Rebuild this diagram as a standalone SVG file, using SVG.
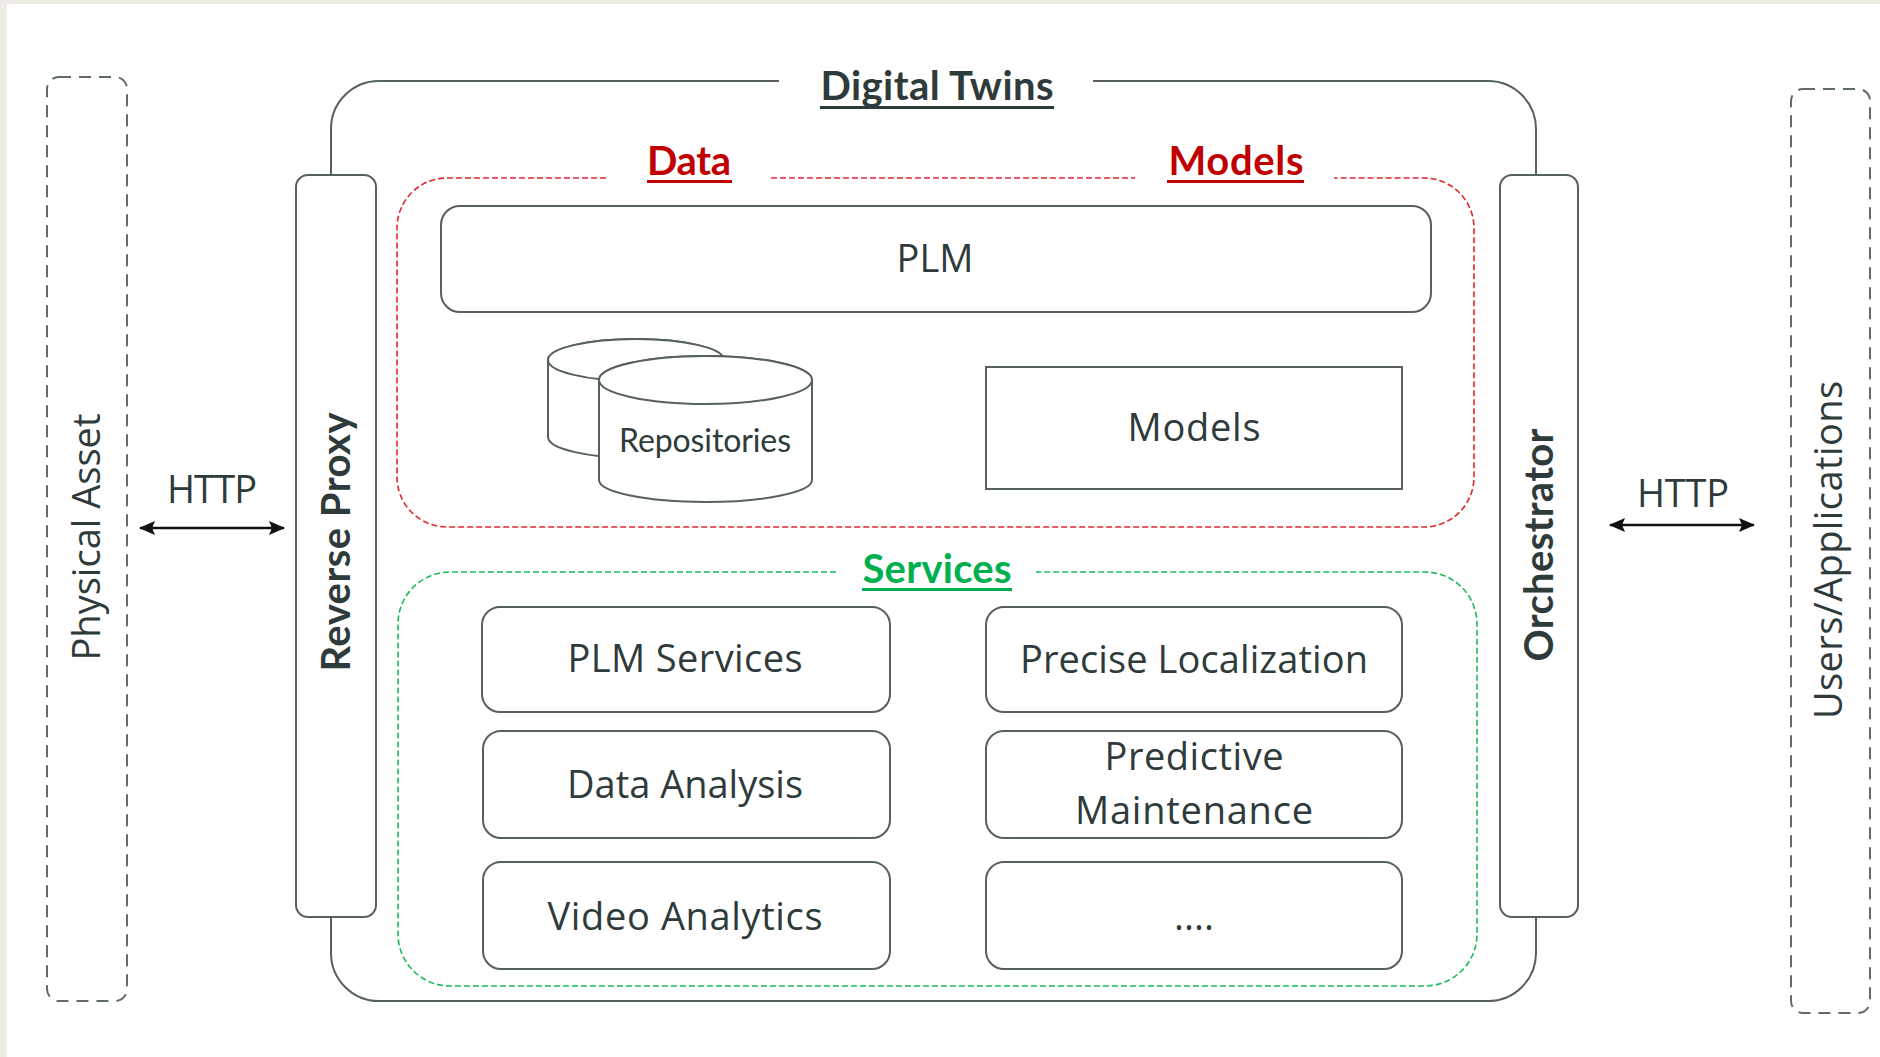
<svg xmlns="http://www.w3.org/2000/svg" width="1880" height="1057" viewBox="0 0 1880 1057">
<defs>
<style>
.bg{fill:#ffffff}
.edge{fill:#EEEBE4}
.box{fill:#ffffff;stroke:#56605f;stroke-width:2}
.frame{fill:none;stroke:#56605f;stroke-width:2}
.ext{fill:#ffffff;stroke:#5f6a6a;stroke-width:2;stroke-dasharray:12 8}
.red{fill:none;stroke:#E0262E;stroke-width:1.6;stroke-dasharray:6 3}
.green{fill:none;stroke:#1DBA5A;stroke-width:1.6;stroke-dasharray:6 3}
.t{font-family:"Open Sans","Liberation Sans",sans-serif;font-size:38px;fill:#2f3b3b;text-anchor:middle}
.b{font-family:Lato,"Liberation Sans",sans-serif;font-size:40px;font-weight:700;text-anchor:middle}
.rep{font-family:Lato,"Liberation Sans",sans-serif;font-size:32px;fill:#2f3b3b;text-anchor:middle}
.arrow{stroke:#111;stroke-width:2.4;fill:none;marker-start:url(#ah);marker-end:url(#ah)}
</style>
<marker id="ah" viewBox="0 0 16 14" refX="15" refY="7" markerWidth="16" markerHeight="14" markerUnits="userSpaceOnUse" orient="auto-start-reverse">
<path d="M0 0 L16 7 L0 14 L3 7 Z" fill="#111"/>
</marker>
</defs>
<rect class="bg" x="0" y="0" width="1880" height="1057"/>
<rect class="edge" x="0" y="0" width="1880" height="4"/>
<rect class="edge" x="0" y="0" width="7" height="1057"/>

<g id="physical-asset">
<rect class="ext" x="47" y="77" width="80" height="924" rx="12"/>
<text class="t" transform="translate(100,537) rotate(-90)" textLength="247">Physical Asset</text>
</g>

<g id="users-applications">
<rect class="ext" x="1791" y="89" width="79" height="924" rx="12"/>
<text class="t" transform="translate(1842,550) rotate(-90)" textLength="338">Users/Applications</text>
</g>

<g id="digital-twins">
<path class="frame" d="M779 81 H379 A48 48 0 0 0 331 129 V953 A48 48 0 0 0 379 1001 H1488 A48 48 0 0 0 1536 953 V129 A48 48 0 0 0 1488 81 H1093"/>
<text class="b" x="937" y="100" fill="#2f3b3b" textLength="233">Digital Twins</text>
<rect x="820" y="106" width="234" height="3" fill="#2f3b3b"/>
</g>

<g id="data-models">
<path class="red" d="M606 178 H447 A50 50 0 0 0 397 228 V477 A50 50 0 0 0 447 527 H1424 A50 50 0 0 0 1474 477 V228 A50 50 0 0 0 1424 178 H1334"/>
<path class="red" d="M771 178 H1135"/>
<text class="b" x="689" y="175" fill="#C00000" textLength="84">Data</text>
<rect x="647" y="180" width="85" height="3" fill="#C00000"/>
<text class="b" x="1236" y="175" fill="#C00000" textLength="135">Models</text>
<rect x="1167" y="180" width="137" height="3" fill="#C00000"/>
</g>

<g id="plm">
<rect class="box" x="441" y="206" width="990" height="106" rx="19"/>
<text class="t" x="935" y="272" textLength="77">PLM</text>
</g>

<g id="repositories">
<path class="box" d="M548 360 V437 A88 21 0 0 0 724 437 V360 A88 21 0 0 0 548 360 Z"/>
<ellipse class="box" cx="636" cy="360" rx="88" ry="21"/>
<path class="box" d="M599 380 V480 A106.5 22 0 0 0 812 480 V380 A106.5 24 0 0 0 599 380 Z"/>
<ellipse class="box" cx="705.5" cy="380" rx="106.5" ry="24"/>
<text class="rep" x="705" y="452" textLength="172">Repositories</text>
</g>

<g id="models">
<rect class="box" x="986" y="367" width="416" height="122"/>
<text class="t" x="1194" y="441" textLength="133">Models</text>
</g>

<g id="services">
<path class="green" d="M836 572 H450 A52 52 0 0 0 398 624 V934 A52 52 0 0 0 450 986 H1425 A52 52 0 0 0 1477 934 V624 A52 52 0 0 0 1425 572 H1036"/>
<text class="b" x="937" y="583" fill="#00B050" textLength="149">Services</text>
<rect x="862" y="588" width="150" height="3" fill="#00B050"/>
</g>

<g id="plm-services">
<rect class="box" x="482" y="607" width="408" height="105" rx="18"/>
<text class="t" x="685" y="672" textLength="235">PLM Services</text>
</g>
<g id="data-analysis">
<rect class="box" x="483" y="731" width="407" height="107" rx="18"/>
<text class="t" x="685" y="798" textLength="236">Data Analysis</text>
</g>
<g id="video-analytics">
<rect class="box" x="483" y="862" width="407" height="107" rx="18"/>
<text class="t" x="685" y="930" textLength="275">Video Analytics</text>
</g>
<g id="precise-localization">
<rect class="box" x="986" y="607" width="416" height="105" rx="18"/>
<text class="t" x="1194" y="673" textLength="348">Precise Localization</text>
</g>
<g id="predictive-maintenance">
<rect class="box" x="986" y="731" width="416" height="107" rx="18"/>
<text class="t" x="1194" y="770" textLength="179">Predictive</text>
<text class="t" x="1194" y="824" textLength="238">Maintenance</text>
</g>
<g id="more-services">
<rect class="box" x="986" y="862" width="416" height="107" rx="18"/>
<text class="t" x="1194" y="930">....</text>
</g>

<g id="reverse-proxy">
<rect class="box" x="296" y="175" width="80" height="742" rx="12"/>
<text class="b" fill="#2f3b3b" transform="translate(350,542) rotate(-90)" textLength="259">Reverse Proxy</text>
</g>

<g id="orchestrator">
<rect class="box" x="1500" y="175" width="78" height="742" rx="12"/>
<text class="b" fill="#2f3b3b" transform="translate(1553,545) rotate(-90)" textLength="233">Orchestrator</text>
</g>

<g id="connectors">
<line class="arrow" x1="140" y1="528" x2="284" y2="528"/>
<text class="t" x="212" y="503" textLength="90">HTTP</text>
<line class="arrow" x1="1610" y1="525" x2="1754" y2="525"/>
<text class="t" x="1683" y="507" textLength="92">HTTP</text>
</g>
</svg>
